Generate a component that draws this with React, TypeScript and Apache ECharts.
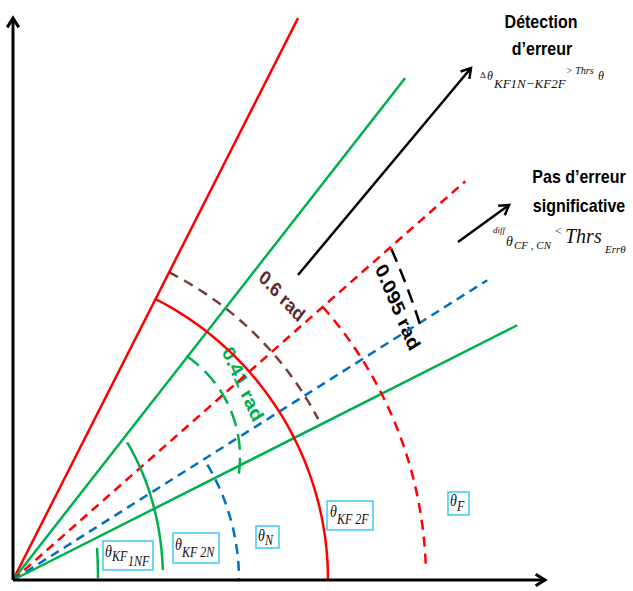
import React, { useEffect, useRef } from "react";
import * as echarts from "echarts";

// Rays from the origin: angle above the x axis (degrees) and length (chart units)
const rayNames = ["θKF2F", "θKF1NF", "θF", "θN", "θKF2N"];
const rayAngles = [63.1, 52.0, 41.4, 32.3, 26.8];
const rayLengths = [630, 637, 603, 561, 565];

// Arcs: centre, radii along x / y and parametric angle range (degrees)
const arcNames = ["θKF1NF", "θKF2N", "θN", "θKF2F", "0.6 rad", "θF", "0.41 rad", "0.095 rad"];
const arcCenterX = [0, 0, 0, 0, 0, 0, 105, 0];
const arcCenterY = [0, 0, 0, 0, 0, 0, 123, 0];
const arcRadiusX = [85, 150, 226, 315, 345, 413, 122, 446];
const arcRadiusY = [210, 212, 226, 315, 345, 413, 122, 625];
const arcStart = [8.8, 40.5, 30.7, 63.1, 63.1, 41.4, 56, 32];
const arcEnd = [0.5, 2.7, 0, 0, 27.8, 1.7, -8.5, 23.5];

// Arrows: start and end points (chart units)
const arrowNames = ["x", "y", "Détection d'erreur", "Pas d'erreur significative"];
const arrowFromX = [0, 0, 285, 445];
const arrowFromY = [0, 0, 305, 338];
const arrowToX = [532, 0, 458, 496];
const arrowToY = [0, 562, 512, 375];

const RED = "#ff0000";
const GREEN = "#00b050";
const BLUE = "#0070c0";
const BROWN = "#7a3b3b";
const CYAN = "#3ec8f2";
const SERIF = "Liberation Serif, DejaVu Serif, serif";
const SANS = "Liberation Sans, Arial, sans-serif";

const rayStyles: any[] = [
  { stroke: RED, lineWidth: 2.5 },
  { stroke: GREEN, lineWidth: 2.5 },
  { stroke: RED, lineWidth: 2.5, lineDash: [9, 6] },
  { stroke: BLUE, lineWidth: 2.5, lineDash: [9, 6] },
  { stroke: GREEN, lineWidth: 2.5 },
];
const arcStyles: any[] = [
  { stroke: GREEN, lineWidth: 2.5 },
  { stroke: GREEN, lineWidth: 2.5 },
  { stroke: BLUE, lineWidth: 2.5, lineDash: [10, 7] },
  { stroke: RED, lineWidth: 2.5 },
  { stroke: BROWN, lineWidth: 2.5, lineDash: [10, 7] },
  { stroke: RED, lineWidth: 2.5, lineDash: [10, 7] },
  { stroke: GREEN, lineWidth: 2.5, lineDash: [16, 8] },
  { stroke: "#000", lineWidth: 2.5, lineDash: [14, 8] },
];
const arrowWidths = [3, 3, 2.5, 2.5];

const D = Math.PI / 180;

function txt(x: number, y: number, text: string, size: number, opts: any = {}) {
  const { italic, bold, family, color, align, scaleY, rotation, scaleX } = opts;
  return {
    type: "text",
    x,
    y,
    scaleY: scaleY ?? 1,
    scaleX: scaleX ?? 1,
    rotation: rotation ?? 0,
    silent: true,
    style: {
      text,
      fontSize: size,
      fontStyle: italic ? "italic" : "normal",
      fontWeight: bold ? "bold" : "normal",
      fontFamily: family ?? SERIF,
      fill: color ?? "#111",
      align: align ?? "left",
      verticalAlign: "middle",
    },
  };
}

function box(x: number, y: number, w: number, h: number) {
  return {
    type: "rect",
    silent: true,
    shape: { x, y, width: w, height: h },
    style: { fill: "none", stroke: CYAN, lineWidth: 1.5 },
  };
}

function rotLabel(cx: number, cy: number, text: string, size: number, rot: number, color: string) {
  return {
    type: "group",
    x: cx,
    y: cy,
    scaleY: 1.2,
    children: [
      {
        type: "text",
        rotation: rot,
        silent: true,
        style: {
          text,
          fontSize: size,
          fontWeight: "bold",
          fontFamily: SANS,
          fill: color,
          align: "center",
          verticalAlign: "middle",
        },
      },
    ],
  };
}

export default function App() {
  const ref = useRef<HTMLDivElement>(null);
  useEffect(() => {
    document.body.style.margin = "0";
    const chart = echarts.init(ref.current!, undefined, { renderer: "svg" });
    const graphic: any[] = [
      // titles
      txt(541, 21, "Détection", 16, { bold: true, family: SANS, align: "center", scaleY: 1.2, color: "#000" }),
      txt(542, 48, "d’erreur", 16, { bold: true, family: SANS, align: "center", scaleY: 1.2, color: "#000" }),
      txt(579, 176, "Pas d’erreur", 16, { bold: true, family: SANS, align: "center", scaleY: 1.2, color: "#000" }),
      txt(579, 205, "significative", 16, { bold: true, family: SANS, align: "center", scaleY: 1.2, color: "#000" }),
      // formula 1
      txt(480, 75, "Δ", 9, {}),
      txt(487, 76, "θ", 12, { italic: true }),
      txt(494, 83, "KF1N−KF2F", 13, { italic: true }),
      txt(566, 70, "> Thrs", 10, { italic: true }),
      txt(598, 76, "θ", 12, { italic: true }),
      // formula 2
      txt(493, 230, "diff", 9, { italic: true }),
      txt(506, 241, "θ", 14, { italic: true }),
      txt(514, 245, "CF , CN", 11, { italic: true }),
      txt(555, 231, "<", 12, {}),
      txt(565, 236, "Thrs", 20, { italic: true }),
      txt(605, 249, "Errθ", 11, { italic: true }),
      // angle labels
      rotLabel(282, 296, "0.6 rad", 17, -0.73, "#5e2a2a"),
      rotLabel(398, 307, "0.095 rad", 18, -1.1, "#000"),
      rotLabel(243, 384, "0.41 rad", 18, -1.08, GREEN),
      // boxed labels
      box(103, 541, 50, 29),
      txt(105, 551, "θ", 14, { italic: true, scaleY: 1.25 }),
      txt(112, 556, "KF", 12, { italic: true, scaleY: 1.25 }),
      txt(128, 561, "1NF", 12, { italic: true, scaleY: 1.25 }),
      box(173, 533, 46, 30),
      txt(175, 544, "θ", 14, { italic: true, scaleY: 1.25 }),
      txt(182, 552, "KF 2N", 12, { italic: true, scaleY: 1.25 }),
      box(256, 526, 23, 22),
      txt(258, 535, "θ", 14, { italic: true, scaleY: 1.25 }),
      txt(265, 540, "N", 12, { italic: true, scaleY: 1.25 }),
      box(327, 501, 46, 29),
      txt(330, 511, "θ", 14, { italic: true, scaleY: 1.25 }),
      txt(337, 519, "KF 2F", 12, { italic: true, scaleY: 1.25 }),
      box(448, 492, 21, 23),
      txt(450, 500, "θ", 14, { italic: true, scaleY: 1.25 }),
      txt(457, 506, "F", 12, { italic: true, scaleY: 1.25 }),
    ];

    const option: any = {
      animation: false,
      grid: { left: 0, right: 0, top: 0, bottom: 0 },
      xAxis: { type: "value", min: -13, max: 620, show: false },
      yAxis: { type: "value", min: -11, max: 580, show: false },
      series: [
        {
          type: "custom",
          name: "rays",
          silent: true,
          data: rayAngles.map((a, i) => ({ name: rayNames[i], value: [a, rayLengths[i]] })),
          renderItem: (params: any, api: any) => {
            const a = api.value(0) * D;
            const L = api.value(1);
            const p0 = api.coord([0, 0]);
            const p1 = api.coord([L * Math.cos(a), L * Math.sin(a)]);
            return {
              type: "line",
              shape: { x1: p0[0], y1: p0[1], x2: p1[0], y2: p1[1] },
              style: { ...rayStyles[params.dataIndex], fill: "none", lineCap: "butt" },
            };
          },
        },
        {
          type: "custom",
          name: "arcs",
          silent: true,
          data: arcRadiusX.map((r, i) => ({
            name: arcNames[i],
            value: [arcCenterX[i], arcCenterY[i], r, arcRadiusY[i], arcStart[i], arcEnd[i]],
          })),
          renderItem: (params: any, api: any) => {
            const cx = api.value(0);
            const cy = api.value(1);
            const rx = api.value(2);
            const ry = api.value(3);
            const a0 = api.value(4) * D;
            const a1 = api.value(5) * D;
            const pts: number[][] = [];
            const n = 60;
            for (let k = 0; k <= n; k++) {
              const t = a0 + ((a1 - a0) * k) / n;
              pts.push(api.coord([cx + rx * Math.cos(t), cy + ry * Math.sin(t)]));
            }
            return {
              type: "polyline",
              shape: { points: pts },
              style: { ...arcStyles[params.dataIndex], fill: "none" },
            };
          },
        },
        {
          type: "custom",
          name: "arrows",
          silent: true,
          data: arrowFromX.map((x, i) => ({
            name: arrowNames[i],
            value: [x, arrowFromY[i], arrowToX[i], arrowToY[i]],
          })),
          renderItem: (params: any, api: any) => {
            const p0 = api.coord([api.value(0), api.value(1)]);
            const p1 = api.coord([api.value(2), api.value(3)]);
            const ang = Math.atan2(p1[1] - p0[1], p1[0] - p0[0]);
            const h = 11;
            const w = 0.55;
            const w1 = [p1[0] - h * Math.cos(ang - w), p1[1] - h * Math.sin(ang - w)];
            const w2 = [p1[0] - h * Math.cos(ang + w), p1[1] - h * Math.sin(ang + w)];
            const lw = arrowWidths[params.dataIndex];
            return {
              type: "group",
              children: [
                {
                  type: "line",
                  shape: { x1: p0[0], y1: p0[1], x2: p1[0], y2: p1[1] },
                  style: { stroke: "#000", lineWidth: lw, fill: "none" },
                },
                {
                  type: "polyline",
                  shape: { points: [w1, p1, w2] },
                  style: { stroke: "#000", lineWidth: lw, fill: "none" },
                },
              ],
            };
          },
        },
      ],
      graphic,
    };
    chart.setOption(option);
    return () => chart.dispose();
  }, []);
  return (
    <div
      ref={ref}
      style={{ position: "absolute", left: 0, top: 0, width: 633, height: 591, background: "#fff" }}
    />
  );
}
